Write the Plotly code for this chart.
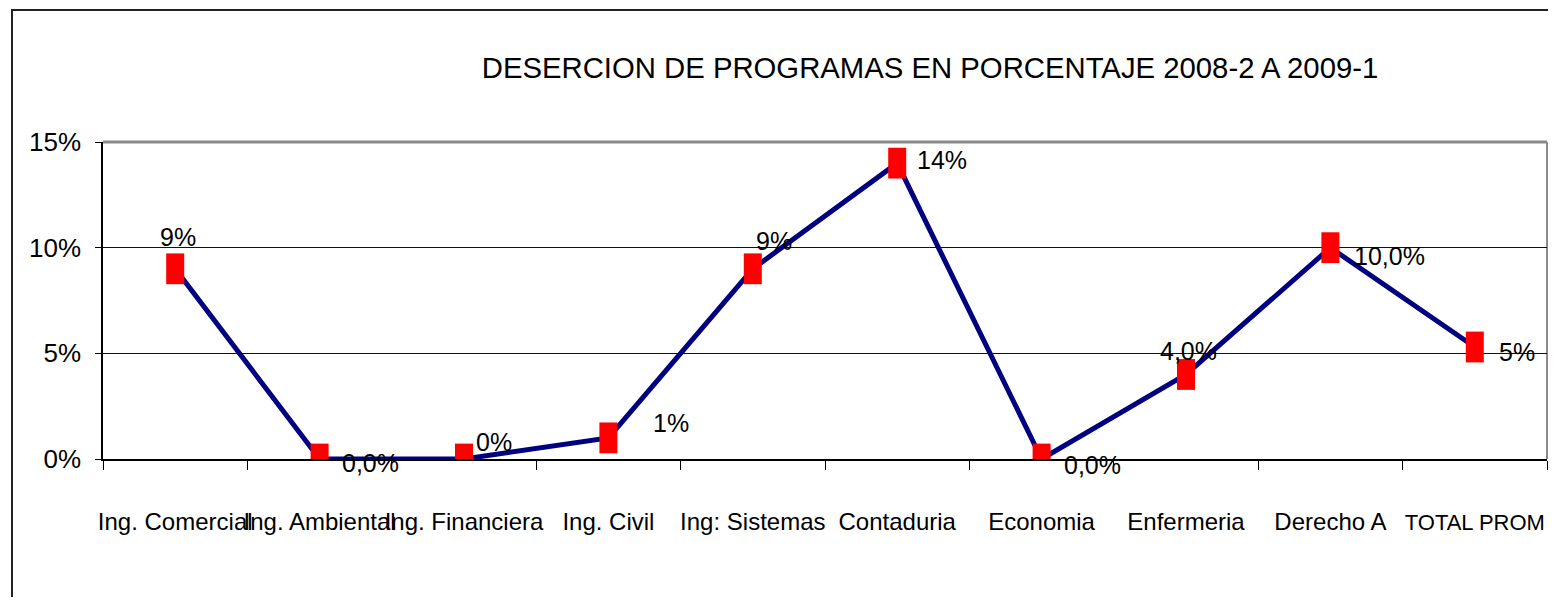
import plotly.graph_objects as go

title = "DESERCION DE PROGRAMAS EN PORCENTAJE 2008-2 A 2009-1"
categories = ["Ing. Comercial", "Ing. Ambiental", "Ing. Financiera", "Ing. Civil",
              "Ing: Sistemas", "Contaduria", "Economia", "Enfermeria",
              "Derecho A", "TOTAL PROM"]
values = [9, 0, 0, 1, 9, 14, 0, 4, 10, 5.3]
value_labels = ["9%", "0,0%", "0%", "1%", "9%", "14%", "0,0%", "4,0%", "10,0%", "5%"]
y_tickvals = [0, 5, 10, 15]
y_ticktext = ["0%", "5%", "10%", "15%"]

FONT = "Liberation Sans Narrow, Arial Narrow, Liberation Sans, Arial, sans-serif"

# figure geometry (page body has an 8px margin)
W, H = 1540, 589
L, R, T, B = 95, 1, 134, 138
PW, PH = W - L - R, H - T - B

# label offsets (pixels) relative to each point: (dx, dy up)
label_offsets = [(3, 32), (51, -4), (30, 17), (63, 15), (21, 28),
                 (45, 3), (51, -6), (2, 23), (59, -8), (42, -5)]

# x tick texts: last one slightly smaller so it fits at the right edge
x_ticktext = list(categories[:-1]) + [
    "<span style='font-size:22px'>" + categories[-1] + "</span>"]

fig = go.Figure()
fig.add_trace(go.Scatter(
    x=categories, y=values, mode="lines",
    line=dict(color="#000080", width=5),
    hoverinfo="skip", showlegend=False,
))
fig.add_trace(go.Scatter(
    x=categories, y=values, mode="markers",
    marker=dict(symbol="line-ns", size=22, color="#ff0000",
                line=dict(color="#ff0000", width=18)),
    showlegend=False,
))

for c, v, t, (dx, dy) in zip(categories, values, value_labels, label_offsets):
    fig.add_annotation(x=c, y=v, text=t, showarrow=False,
                       xanchor="center", yanchor="middle",
                       xshift=dx, yshift=dy,
                       font=dict(family=FONT, size=25, color="#000"))

# outer chart frame (partially visible)
fig.add_shape(type="rect", xref="paper", yref="paper",
              x0=(4 - L) / PW, x1=(W + 50 - L) / PW,
              y0=(H - B - (H + 50)) / PH, y1=(H - B - 2) / PH,
              line=dict(color="#222", width=2), layer="below")
# plot area top/right border (gray)
fig.add_shape(type="line", xref="paper", yref="paper", x0=0, x1=1, y0=1, y1=1,
              line=dict(color="#8a8a8a", width=3), layer="below")
fig.add_shape(type="line", xref="paper", yref="paper", x0=1, x1=1, y0=0, y1=1,
              line=dict(color="#8a8a8a", width=2), layer="below")

fig.update_layout(
    width=W, height=H, autosize=False,
    margin=dict(l=L, r=R, t=T, b=B, pad=0),
    paper_bgcolor="white", plot_bgcolor="white",
    title=dict(text=title, x=922 / W, xanchor="center", y=1 - 60 / H,
               yanchor="middle", font=dict(family=FONT, size=29.3, color="#000")),
    font=dict(family=FONT, color="#000"),
    xaxis=dict(
        type="category", range=[-0.5, 9.5], tickangle=0, automargin=False,
        tickvals=categories, ticktext=x_ticktext,
        tickson="boundaries", ticks="outside", ticklen=9, tickcolor="#000",
        showline=True, linecolor="#000", linewidth=2,
        showgrid=False, zeroline=False,
        tickfont=dict(family=FONT, size=24, color="#000"),
        ticklabelstandoff=40,
    ),
    yaxis=dict(
        range=[0, 15], tickvals=y_tickvals, ticktext=y_ticktext, automargin=False,
        ticks="outside", ticklen=6, tickcolor="#000",
        showline=True, linecolor="#000", linewidth=1.5,
        showgrid=True, gridcolor="#111", gridwidth=1.3,
        zeroline=False,
        tickfont=dict(family=FONT, size=26, color="#000"),
        ticklabelstandoff=9,
    ),
)

fig.write_html("out.html")
